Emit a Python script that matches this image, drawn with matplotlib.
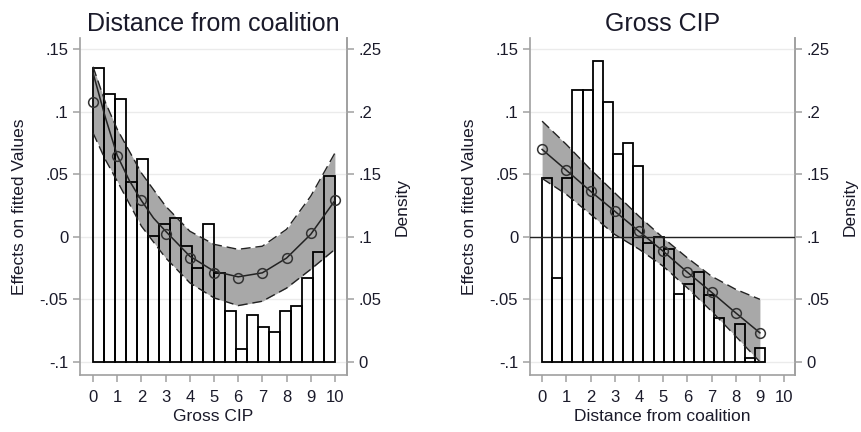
import matplotlib.pyplot as plt
import numpy as np

plt.rcParams['font.family'] = ['Liberation Sans', 'DejaVu Sans']

# ---- left panel: Distance from coalition vs Gross CIP ----
left_pts_x = [0, 1, 2, 3, 4, 5, 6, 7, 8, 9, 10]
left_pts_y = [0.1077, 0.065, 0.0293, 0.0024, -0.0171, -0.0293, -0.0328, -0.0293, -0.0171, 0.0027, 0.0293]

left_line_x = [0, 0.5, 1, 1.5, 2, 2.5, 3, 4, 5, 6, 7, 8, 9, 10]
left_line_y = [0.131, 0.096, 0.065, 0.045, 0.029, 0.015, 0.0045, -0.0155, -0.0275, -0.032,
               -0.0288, -0.017, 0.002, 0.029]

left_ci_x = [0, 0.5, 1, 2, 3, 4, 5, 6, 7, 8, 9, 10]
left_ci_hi = [0.136, 0.108, 0.086, 0.051, 0.0245, 0.0045, -0.006, -0.010, -0.0075, 0.006, 0.0325, 0.067]
left_ci_lo = [0.083, 0.062, 0.0445, 0.0085, -0.0168, -0.0368, -0.0488, -0.055, -0.0515, -0.041, -0.026, -0.010]

left_density = [0.235, 0.214, 0.21, 0.144, 0.162, 0.101, 0.11, 0.115, 0.0925, 0.075, 0.11,
                0.0707, 0.0405, 0.0104, 0.0371, 0.028, 0.0237, 0.0405, 0.045, 0.0672, 0.088, 0.149]
left_range = (0, 10)

# ---- right panel: Gross CIP vs Distance from coalition ----
right_pts_x = [0, 1, 2, 3, 4, 5, 6, 7, 8, 9]
right_pts_y = [0.0699, 0.0533, 0.0365, 0.0205, 0.0045, -0.0115, -0.0283, -0.0443, -0.0608, -0.0768]
right_ci_hi = [0.0925, 0.0739, 0.0539, 0.0352, 0.0165, -0.0008, -0.0168, -0.0315, -0.042, -0.05]
right_ci_lo = [0.0467, 0.034, 0.018, 0.0019, -0.0098, -0.0235, -0.0408, -0.0595, -0.0795, -0.1]

right_density = [0.1467, 0.0672, 0.1467, 0.2171, 0.2171, 0.2405, 0.2077, 0.1659, 0.1747, 0.1565, 0.0952,
                 0.1, 0.0904, 0.0539, 0.0619, 0.072, 0.0533, 0.0352, 0.0, 0.0303, 0.003, 0.0112]
right_range = (0, 9.21)

yticks = [-0.1, -0.05, 0, 0.05, 0.1, 0.15]
ytick_labels = ['-.1', '-.05', '0', '.05', '.1', '.15']
dticks = [0, 0.05, 0.1, 0.15, 0.2, 0.25]
dtick_labels = ['0', '.05', '.1', '.15', '.2', '.25']

text_col = '#1a1a2a'
axis_col = '#a0a0a0'


def panel(ax, title, xlabel, dens, hrange, ci_x, ci_lo, ci_hi, line_x, line_y, px, py, xlim, zero_line):
    edges = np.linspace(hrange[0], hrange[1], len(dens) + 1)
    width = edges[1] - edges[0]
    ax.fill_between(ci_x, ci_lo, ci_hi, color='#a8a8a8', lw=0, zorder=1)
    ax.bar(edges[:-1], dens, width=width, bottom=-0.1, align='edge',
           facecolor='none', edgecolor='black', lw=1.3, zorder=2)
    ax.plot(ci_x, ci_hi, color='#222222', ls=(0, (7, 3.5)), lw=1, zorder=3)
    ax.plot(ci_x, ci_lo, color='#222222', ls=(0, (7, 3.5)), lw=1, zorder=3)
    ax.plot(line_x, line_y, color='#222222', lw=1.1, zorder=4)
    ax.plot(px, py, ls='none', marker='o', ms=7, mfc='none', mec='#333333', mew=1.1, zorder=5)
    if zero_line:
        ax.axhline(0, color='#222222', lw=1, zorder=3)

    ax.set_xlim(*xlim)
    ax.set_ylim(-0.1105, 0.159)
    ax.set_yticks(yticks, ytick_labels)
    ax.set_xticks(range(11))
    ax.yaxis.grid(True, color='#ebebeb', lw=1)
    ax.set_axisbelow(True)
    for s in ['left', 'right', 'bottom']:
        ax.spines[s].set_color(axis_col)
        ax.spines[s].set_linewidth(1.2)
    ax.spines['top'].set_visible(False)
    ax.tick_params(colors=axis_col, labelcolor=text_col, labelsize=12, length=5, width=1.1)
    ax.tick_params(axis='x', pad=6)

    ax.set_title(title, fontsize=18, color=text_col, pad=5)
    ax.set_xlabel(xlabel, fontsize=12.5, color=text_col, labelpad=3)
    ax.set_ylabel('Effects on fitted Values', fontsize=12.5, color=text_col, labelpad=9)

    sec = ax.secondary_yaxis('right', functions=(lambda y: y + 0.1, lambda d: d - 0.1))
    sec.set_yticks(dticks, dtick_labels)
    sec.spines['right'].set_color(axis_col)
    sec.spines['right'].set_linewidth(1.2)
    sec.tick_params(colors=axis_col, labelcolor=text_col, labelsize=12, length=5, width=1.1)
    sec.set_ylabel('Density', fontsize=12.5, color=text_col, labelpad=9)


fig = plt.figure(figsize=(8.61, 4.32), dpi=100)
ax1 = fig.add_axes([80 / 861, 1 - 375 / 432, 267 / 861, 337 / 432])
ax2 = fig.add_axes([530 / 861, 1 - 375 / 432, 265 / 861, 337 / 432])

panel(ax1, 'Distance from coalition', 'Gross CIP', left_density, left_range,
      left_ci_x, left_ci_lo, left_ci_hi, left_line_x, left_line_y,
      left_pts_x, left_pts_y, (-0.54, 10.5), False)
panel(ax2, 'Gross CIP', 'Distance from coalition', right_density, right_range,
      right_pts_x, right_ci_lo, right_ci_hi, right_pts_x, right_pts_y,
      right_pts_x, right_pts_y, (-0.5, 10.45), True)

fig.savefig('out.png', dpi=100)
